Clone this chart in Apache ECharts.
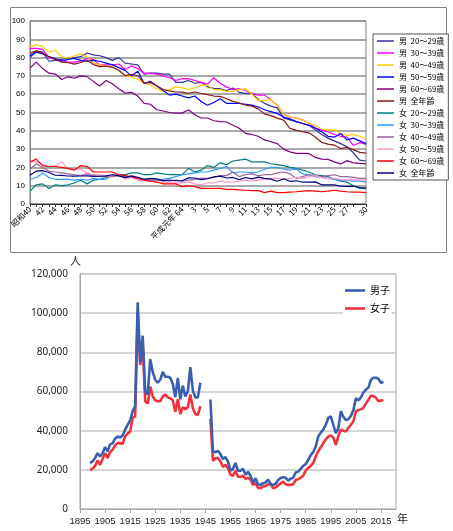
<!DOCTYPE html>
<html><head><meta charset="utf-8">
<script src="https://cdn.jsdelivr.net/npm/echarts/dist/echarts.min.js"></script>
<style>html,body{margin:0;padding:0;background:#fff}#c{width:453px;height:531px}</style>
</head><body><div id="c"></div>
<script>
// ---------- top chart data ----------
const topCategories = ['昭和40','41','42','43','44','45','46','47','48','49','50','51','52','53','54','55','56','57','58','59','60','61','62','63','平成元年 64','2','3','4','5','6','7','8','9','10','11','12','13','14','15','16','17','18','19','20','21','22','23','24','25','26','27','28','29','30'];
const topNames = ['男  20～29歳','男  30～39歳','男  40～49歳','男  50～59歳','男  60～69歳','男  全年齢','女  20～29歳','女  30～39歳','女  40～49歳','女  50～59歳','女  60～69歳','女  全年齢'];
const male20 = [80,83.5,83,78,78.5,79,79.5,80,80.5,82.5,81.5,81,80,78.5,80,77,76.5,76,71,71.5,71.5,71,71,66.5,66.5,67.5,66,66.5,64,63.2,63,62,63.4,61,60.5,60.5,57,55,53.5,52.5,47,46,45,44,43,40.5,38,36,34.5,33,31.3,28,24,23.5];
const male30 = [85,85,84.5,80,79,78.5,77.5,77.5,78,79.5,79,76,76,76,76.5,73.5,75.5,74,71.5,71.5,71,70,69,67.5,68.5,68.5,67.5,66.5,65.5,69,66,64,62.5,63,62,60.5,59.5,59.5,57,54,49,47.5,47,46,44,41.5,40.5,39.5,38,37,36.5,32,33.5,32.5];
const male40 = [86,87,86,83,84,80.5,79.5,81,82,80.5,77,76,75.5,75,73,70,69.5,68,66,65,63,61.5,62.5,64,63.5,62.5,63.5,65,65,62.5,62.5,61.5,61.5,62.5,63,60,56.5,56.5,57,54,49,47.5,47,46,44,43,41,40.5,40.5,38.5,37.5,38,37,35.5];
const male50 = [81,83,82,80.5,79.5,78,79,79.5,78.5,78,78.5,78,77,76,74.5,73,70,72.5,66,67,64.5,62,59.5,60,59,58,59,56,54,55.5,57.5,55,55,55,54.5,54,53,51.5,50.5,49.5,47.5,46.5,45,44,43,41.5,39.5,37,36.5,38.5,35,36,34.5,33];
const male60 = [74.3,77.5,74,71.5,71,68,69.5,68.7,70,69.6,67,64.5,67.5,65.7,63,60.6,61,59,55,54.5,51.5,50.8,50,49.7,49.7,51.5,48.8,47,47,45.5,45,44.8,43,41.4,38.6,38,37,35,34,33,30,28.5,27.7,27.7,27.5,25.5,24.5,24.4,23,21.9,23.7,22.5,22.2,21.9];
const maleAll = [82.3,83.7,82.4,80.5,79.1,77.5,77.2,76.4,77.3,78.5,76.2,75.1,75.3,74.7,73.1,70.2,70.8,70.1,66.1,66.3,64.6,62.5,61.8,61.2,61.1,60.5,61.2,60.4,59.8,59.0,58.8,57.5,56.1,55.2,54.0,53.5,52.0,49.1,48.3,46.9,45.8,41.3,40.2,39.5,38.9,36.6,33.7,32.7,32.2,30.3,31.0,29.7,28.2,27.8];
const female20 = [7,10.5,11,8.5,10.5,10,10.5,11.5,13,11,13,13.5,14.5,15.5,16,16,17,17,16,16,17,16.5,16,16,16,19.5,17.5,18.5,21,20,22.5,21.5,23.5,24,24.5,23,23,23,22,21.5,21,20,19.5,18.5,17.5,16,15.5,15,13.5,12.5,12,10,8.5,8.5];
const female30 = [13.5,14.5,17,14.5,13.5,13.5,13.5,13,13.5,13,14,13.5,13.5,16,15.5,15,14.5,14,13.5,13,13,13.5,14,15,16,16.5,17,17.5,17.5,18.5,19.5,20.5,17,17.5,17.5,17,17.5,19,20,20,19,18.5,19,16.5,16,15,14.5,14,13.5,13,13,12.5,12.5,12];
const female40 = [19,22,20,18,17.5,17,16.5,16,15.5,16.5,15.5,15,15,15,15.5,15,14.5,14,13.5,13.5,13,13,12.5,13,12.5,13,13.5,14,14,14.5,15.5,15.5,17.5,15,16,16.5,15.5,16,16,17,17.5,16.5,14,15,16,15.5,15,15.5,16,15,15,14.5,14,14];
const female50 = [23,23,21.5,20.5,21,23,19,19.5,19,17,16,16,15.5,15.5,16,13.5,14.5,13,12.5,12.5,12,12,11.5,11.5,11.5,12,11,10.5,11.5,11.5,12.5,12,12,12.5,13,12.5,13,13.5,14,14,13.5,14,14.5,14,15,15.5,14.5,14,14,13.5,13,13.5,13,13];
const female60 = [23,24.5,21,20.5,20.5,20,19.5,18.5,21,20.5,17.5,17.5,17.5,17.5,16,15.5,15,14,13,12.5,12,11,11,11,9.5,10,9.5,8.5,8.5,8.5,8.5,8,8,7.7,7.5,7.3,7.3,6.2,7,6.2,6.2,6.5,6.7,7,7.3,7,6.7,7,7.5,7,6.7,6.5,6.5,6.2];
const femaleAll = [15.7,18.0,18.2,17.2,15.7,15.6,15.3,15.2,15.3,15.4,15.1,15.2,15.4,16.0,15.4,14.4,15.4,14.6,13.5,14.0,13.7,12.6,13.1,12.7,12.7,14.3,14.2,13.3,13.8,14.8,15.2,14.2,14.5,13.3,14.5,13.7,14.7,14.0,13.6,12.4,13.8,12.4,12.7,11.9,11.9,12.1,10.5,10.4,10.5,9.8,9.6,9.7,9.0,8.7];
const topTicks = [0,100,10];

// ---------- bottom chart data (1899..2016, null = no data) ----------
const bottomFirstYear = 1899;
const menCounts = [23400,24300,26000,28500,26800,28500,31600,29400,33000,33500,36000,37000,36500,37500,40500,43000,45300,50000,52500,105500,75000,88500,60000,58500,76500,70000,66000,64500,66000,70000,67500,67500,67000,64000,57000,67000,56000,63000,57500,60000,72500,60500,57000,57000,64500,null,null,null,55900,29500,29000,29700,28000,25500,26500,24300,19500,20500,23500,19500,19500,20500,17500,19000,17000,13500,15700,12500,12300,13200,13500,15000,12800,12300,12800,14800,15800,16200,16000,14500,15500,16000,18600,19100,20500,22000,23000,25000,27500,29000,32000,37000,39000,40500,43000,46500,47300,43000,38800,41200,50000,47000,45500,45800,47500,50500,56500,55500,57000,59500,61000,62000,66000,67000,67000,66500,64500,65000];
const womenCounts = [20000,20500,22000,24800,22600,25500,28500,26000,29000,30300,32500,33700,33500,33300,37100,38500,39600,46500,47300,100500,73500,84500,55000,53800,62500,57500,55500,55000,55000,57500,58500,57000,56500,55500,49500,56000,48500,52000,51000,52000,58500,51500,48500,48000,52500,null,null,null,46000,24500,26000,26000,24300,21500,22500,21000,17400,17000,19500,16500,16500,17000,15400,16000,15000,12300,13200,10800,10600,11500,11800,12500,12800,10600,11000,12000,13000,14000,12600,12300,12300,12600,14900,15200,16000,17000,19600,21000,22000,23500,26800,29500,31500,33700,35500,37000,37500,36500,32800,37200,40500,40000,39600,41500,43000,44700,49900,50500,51000,51600,53800,55800,57900,57600,56800,55000,55400,55500];
const bottomYTicks = [0,120000,20000];
const bottomXRange = [1895,2021,10];

const topColors = ['#333399','#ff00ff','#ffcc00','#0000ff','#800080','#8b1a1a','#008080','#3399ff','#996699','#ff99cc','#ff0000','#000080'];
const topValues = [male20,male30,male40,male50,male60,maleAll,female20,female30,female40,female50,female60,femaleAll];

const jp = 'Noto Sans CJK JP';
const chart = echarts.init(document.getElementById('c'), null, {renderer:'canvas'});

const topSeries = topNames.map((n,k)=>({
  name:n, type:'line', xAxisIndex:0, yAxisIndex:0, data:topValues[k],
  symbol:'none', lineStyle:{width:1.2,color:topColors[k]}, itemStyle:{color:topColors[k]}, animation:false
}));
function pairs(arr){ return arr.map((v,i)=>[bottomFirstYear+i, v==null?'-':v]); }
const bottomSeries = [
  {name:'男子', type:'line', xAxisIndex:1, yAxisIndex:1, data:pairs(menCounts), symbol:'none', connectNulls:false,
   lineStyle:{width:2.6,color:'#3a5fb0'}, itemStyle:{color:'#3a5fb0'}, animation:false, z:3},
  {name:'女子', type:'line', xAxisIndex:1, yAxisIndex:1, data:pairs(womenCounts), symbol:'none', connectNulls:false,
   lineStyle:{width:2.6,color:'#f0323c'}, itemStyle:{color:'#f0323c'}, animation:false, z:2}
];

chart.setOption({
  animation:false,
  backgroundColor:'#fff',
  grid:[
    {left:30, top:21, width:336, height:183, show:true, borderColor:'#808080', borderWidth:1, backgroundColor:'#fff'},
    {left:80, top:274, width:316, height:235, show:true, borderColor:'#a6a6a6', borderWidth:1, backgroundColor:'#fff'}
  ],
  xAxis:[
    {type:'category', gridIndex:0, data:topCategories, boundaryGap:false,
     axisLine:{lineStyle:{color:'#333',width:1}},
     axisTick:{show:true, interval:0, length:3, lineStyle:{color:'#333'}},
     axisLabel:{rotate:45, fontSize:8, fontFamily:jp, color:'#000', margin:4, showMaxLabel:true, showMinLabel:true,
       interval:(i)=> (i%2===0 || i===topCategories.length-1)},
     splitLine:{show:false}},
    {type:'value', gridIndex:1, min:bottomXRange[0], max:bottomXRange[1], interval:bottomXRange[2],
     axisLine:{lineStyle:{color:'#a6a6a6',width:1}},
     axisTick:{show:true, length:4, lineStyle:{color:'#a6a6a6'}},
     axisLabel:{fontSize:9.5, fontFamily:'Liberation Sans', color:'#222', margin:7, showMinLabel:true, showMaxLabel:false,
       formatter:(v)=>String(v)},
     splitLine:{show:false}}
  ],
  yAxis:[
    {type:'value', gridIndex:0, min:topTicks[0], max:topTicks[1], interval:topTicks[2],
     axisLine:{show:true, lineStyle:{color:'#808080'}}, axisTick:{show:false},
     axisLabel:{fontSize:8, fontFamily:'Liberation Sans', color:'#000', margin:5},
     splitLine:{lineStyle:{color:'#8c8c8c', width:1.5}}},
    {type:'value', gridIndex:1, min:bottomYTicks[0], max:bottomYTicks[1], interval:bottomYTicks[2],
     axisLine:{show:true, lineStyle:{color:'#a6a6a6'}}, axisTick:{show:false},
     axisLabel:{fontSize:10, fontFamily:'Noto Sans', color:'#222', margin:12},
     splitLine:{lineStyle:{color:'#c8c8c8', width:1.5}}}
  ],
  legend:[
    {data:topNames, orient:'vertical', left:373, top:34, padding:[3,4,3,4], itemGap:4,
     icon:'rect', itemWidth:17, itemHeight:1.5, borderColor:'#555', borderWidth:1, backgroundColor:'#fff',
     selectedMode:false, textStyle:{fontSize:8, fontFamily:jp, color:'#000', lineHeight:8}},
    {data:['男子','女子'], orient:'vertical', left:343, top:283, padding:[2,2,2,2], itemGap:7,
     icon:'rect', itemWidth:20, itemHeight:2.6, backgroundColor:'#fff', selectedMode:false,
     textStyle:{fontSize:10, fontFamily:jp, color:'#000', lineHeight:11}}
  ],
  graphic:[
    {type:'rect', shape:{x:10.5, y:7.5, width:436, height:245}, style:{fill:'none', stroke:'#808080', lineWidth:1}, silent:true, z:-1},
    {type:'text', left:70, top:255, style:{text:'人', fontSize:11, fontFamily:jp, fill:'#222'}},
    {type:'text', left:397, top:513, style:{text:'年', fontSize:11, fontFamily:jp, fill:'#222'}}
  ],
  series: topSeries.concat(bottomSeries)
});
</script>
</body></html>
